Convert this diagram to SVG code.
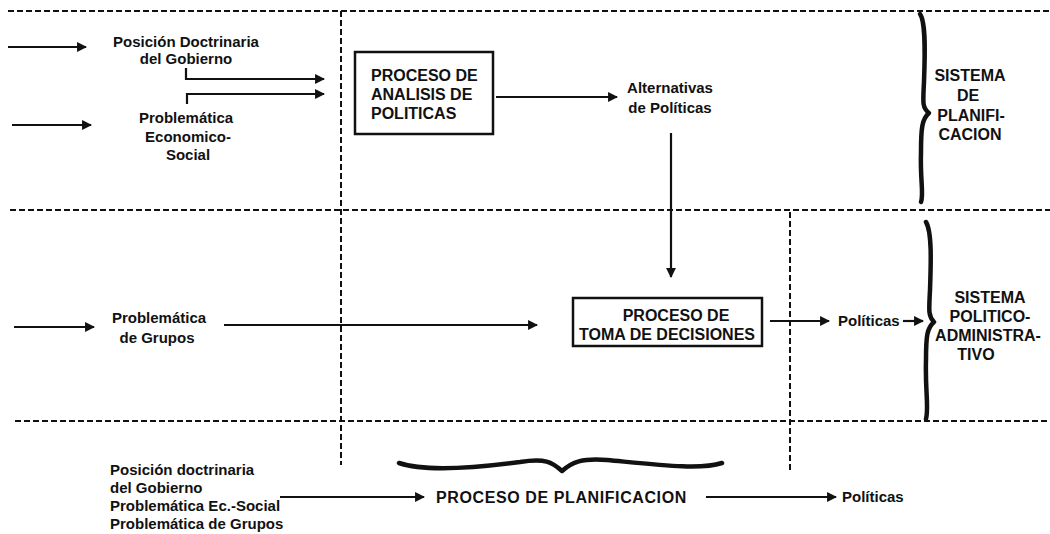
<svg xmlns="http://www.w3.org/2000/svg" width="1050" height="534" viewBox="0 0 1050 534">
<style>
.t{font-family:"Liberation Sans",Arial,sans-serif;font-weight:bold;font-size:15px;fill:#111}
.c{font-family:"Liberation Sans",Arial,sans-serif;font-weight:bold;font-size:16px;fill:#111}
.m{text-anchor:middle}
.dash{stroke:#111;stroke-width:2;stroke-dasharray:6 3;fill:none}
.ln{stroke:#111;stroke-width:2.2;fill:none;marker-end:url(#ah)}
.box{fill:#fff;stroke:#111;stroke-width:2.5}
.brace{stroke:#111;stroke-width:4.5;fill:none;stroke-linecap:round;stroke-linejoin:round}
</style>
<defs>
<marker id="ah" viewBox="0 0 10 10" refX="9" refY="5" markerWidth="5" markerHeight="4.5" orient="auto" markerUnits="strokeWidth">
<path d="M0,0 L10,5 L0,10 z" fill="#111"/>
</marker>
</defs>
<rect width="1050" height="534" fill="#fff"/>
<g id="grid">
<path class="dash" d="M8 11 H1050 M10 210 H1050 M15 421 H1050"/>
<path class="dash" d="M341 11 V465 M790 212 V470"/>
</g>
<g id="connectors">
<path class="ln" d="M8 47 H86"/>
<path class="ln" d="M12 125 H91"/>
<path class="ln" d="M186 68 V79 H324"/>
<path class="ln" d="M187 104 V94 H324"/>
<path class="ln" d="M496 97 H617"/>
<path class="ln" d="M671 133 V277"/>
<path class="ln" d="M14 327 H94"/>
<path class="ln" d="M224 325 H537"/>
<path class="ln" d="M770 321 H829"/>
<path class="ln" d="M903 321 H923"/>
<path class="ln" d="M280 497 H424"/>
<path class="ln" d="M706 497 H836"/>
</g>
<g id="posicion">
<text class="t m" x="186" y="47">Posición Doctrinaria</text>
<text class="t m" x="186" y="64">del Gobierno</text>
</g>
<g id="problematica-es">
<text class="t m" x="186" y="123">Problemática</text>
<text class="t m" x="188" y="142">Economico-</text>
<text class="t m" x="188" y="160">Social</text>
</g>
<g id="analisis">
<rect class="box" x="355" y="52" width="138" height="82"/>
<text class="c" x="371" y="81">PROCESO DE</text>
<text class="c" x="371" y="100">ANALISIS DE</text>
<text class="c" x="371" y="119">POLITICAS</text>
</g>
<g id="alternativas">
<text class="t m" x="670" y="93">Alternativas</text>
<text class="t m" x="670" y="113">de Políticas</text>
</g>
<g id="sistema-planificacion">
<path class="brace" d="M920 14 C926 22 925 55 924 82 C923 102 922 108 929 113 C922 119 921 128 921 152 C920 180 924 194 921 202"/>
<text class="c m" x="970" y="81">SISTEMA</text>
<text class="c m" x="968" y="101">DE</text>
<text class="c m" x="971" y="121">PLANIFI-</text>
<text class="c m" x="970" y="140">CACION</text>
</g>
<g id="grupos">
<text class="t m" x="159" y="323">Problemática</text>
<text class="t m" x="157" y="343">de Grupos</text>
</g>
<g id="decisiones">
<rect class="box" x="573" y="298" width="189" height="48"/>
<text class="c m" x="676" y="321">PROCESO DE</text>
<text class="c m" x="667" y="340">TOMA DE DECISIONES</text>
</g>
<g id="politicas-mid">
<text class="t" x="838" y="326">Políticas</text>
</g>
<g id="sistema-politico">
<path class="brace" d="M926 222 C932 232 931 262 930 290 C929 310 928 316 934 322 C927 328 926 336 926 360 C925 390 929 408 926 419"/>
<text class="c m" x="990" y="303">SISTEMA</text>
<text class="c m" x="990" y="322">POLITICO-</text>
<text class="c m" x="988" y="341">ADMINISTRA-</text>
<text class="c m" x="976" y="360">TIVO</text>
</g>
<g id="resumen">
<text class="t" x="110" y="475">Posición doctrinaria</text>
<text class="t" x="110" y="493">del Gobierno</text>
<text class="t" x="110" y="511">Problemática Ec.-Social</text>
<text class="t" x="110" y="529">Problemática de Grupos</text>
</g>
<g id="planificacion">
<path class="brace" d="M399 463 C425 472 475 468 520 462 C545 458 552 462 562 471 C572 462 582 458 607 460 C660 465 700 470 722 463" stroke-width="5.5"/>
<text class="c" x="436" y="503" letter-spacing="0.6">PROCESO DE PLANIFICACION</text>
</g>
<g id="politicas-bottom">
<text class="t" x="842" y="502">Políticas</text>
</g>
</svg>
